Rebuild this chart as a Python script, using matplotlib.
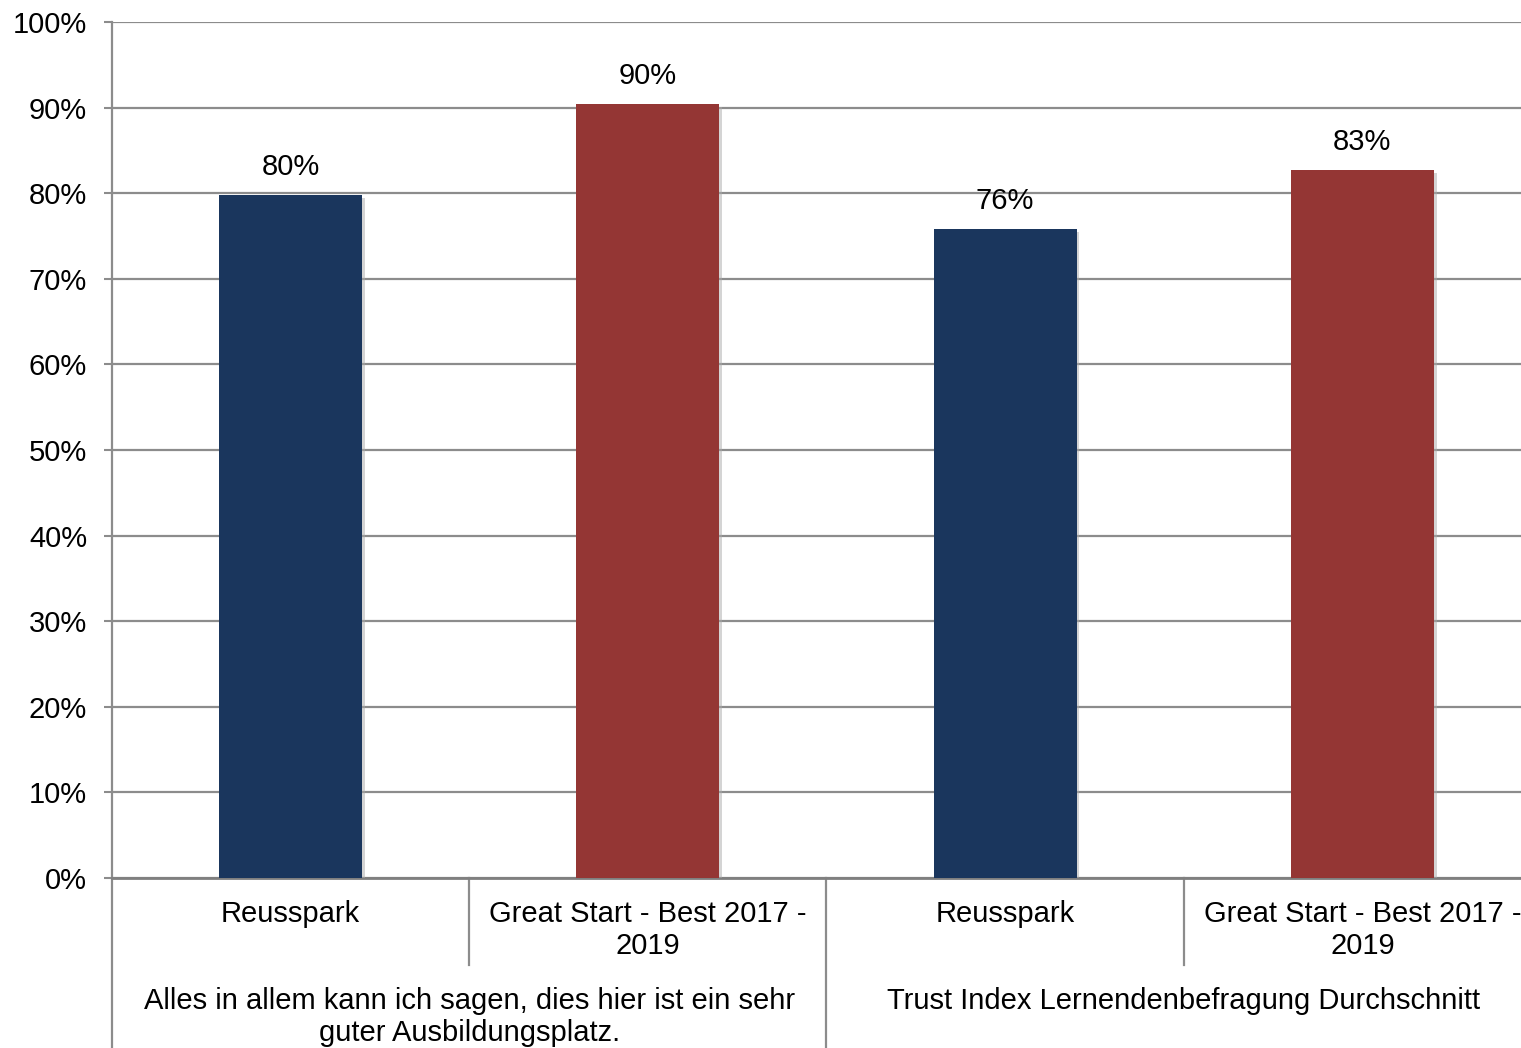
import matplotlib
matplotlib.use('Agg')
import matplotlib.pyplot as plt
import matplotlib.patheffects as pe

plt.rcParams['font.family'] = ['Liberation Sans', 'DejaVu Sans']

# data
groups = ['Alles in allem kann ich sagen, dies hier ist ein sehr\nguter Ausbildungsplatz.',
          'Trust Index Lernendenbefragung Durchschnitt']
categories = ['Reusspark', 'Great Start - Best 2017 -\n2019',
              'Reusspark', 'Great Start - Best 2017 -\n2019']
values = [0.798, 0.904, 0.758, 0.827]
value_labels = ['80%', '90%', '76%', '83%']
colors = ['#1a365d', '#943634', '#1a365d', '#943634']
yticks = [0, 0.1, 0.2, 0.3, 0.4, 0.5, 0.6, 0.7, 0.8, 0.9, 1.0]
ytick_labels = ['0%', '10%', '20%', '30%', '40%', '50%', '60%', '70%', '80%', '90%', '100%']

FS = 21
W, H = 1521, 1048
fig = plt.figure(figsize=(W / 100, H / 100), dpi=100)
left, right, top, bottom = 112, 1541, 22, 878
ax = fig.add_axes([left / W, (H - bottom) / H, (right - left) / W, (bottom - top) / H])

grid_col = '#8c8c8c'
x = [i + 0.5 for i in range(len(values))]
bars = ax.bar(x, values, width=0.4, color=colors, zorder=3)
for b in bars:
    b.set_path_effects([pe.SimplePatchShadow(offset=(2, -2), shadow_rgbFace='#aaaaaa', alpha=0.5),
                        pe.Normal()])

for xi, v, lab in zip(x, values, value_labels):
    ax.annotate(lab, (xi, v), xytext=(0, 20), textcoords='offset points',
                ha='center', va='center', fontsize=FS, color='black')

ax.set_xlim(0, len(values))
ax.set_ylim(0, 1.0)
ax.set_yticks(yticks)
ax.set_yticklabels(ytick_labels)
ax.yaxis.grid(True, color=grid_col, linewidth=1.6, zorder=0)
ax.set_axisbelow(True)
ax.tick_params(axis='y', length=6, width=1.5, color=grid_col, pad=12, labelsize=FS)
ax.set_xticks([])
for s in ['top', 'right']:
    ax.spines[s].set_visible(False)
ax.spines['left'].set_color(grid_col)
ax.spines['left'].set_linewidth(1.6)
ax.spines['bottom'].set_color('#7f7f7f')
ax.spines['bottom'].set_linewidth(2)

trans = ax.get_xaxis_transform()
ah = bottom - top
# category separators below the axis
for i in range(len(values) + 1):
    depth = -170 / ah if i % 2 == 0 else -87 / ah
    ax.plot([i, i], [0, depth], transform=trans, color=grid_col, linewidth=1.6, clip_on=False)

for xi, cat in zip(x, categories):
    ax.text(xi, -22 / ah, cat, transform=trans, ha='center', va='top',
            fontsize=FS, linespacing=1.18)

for gi, g in enumerate(groups):
    ax.text(gi * 2 + 1, -109 / ah, g, transform=trans, ha='center', va='top',
            fontsize=FS, linespacing=1.18)

fig.savefig('out.png', dpi=100)
